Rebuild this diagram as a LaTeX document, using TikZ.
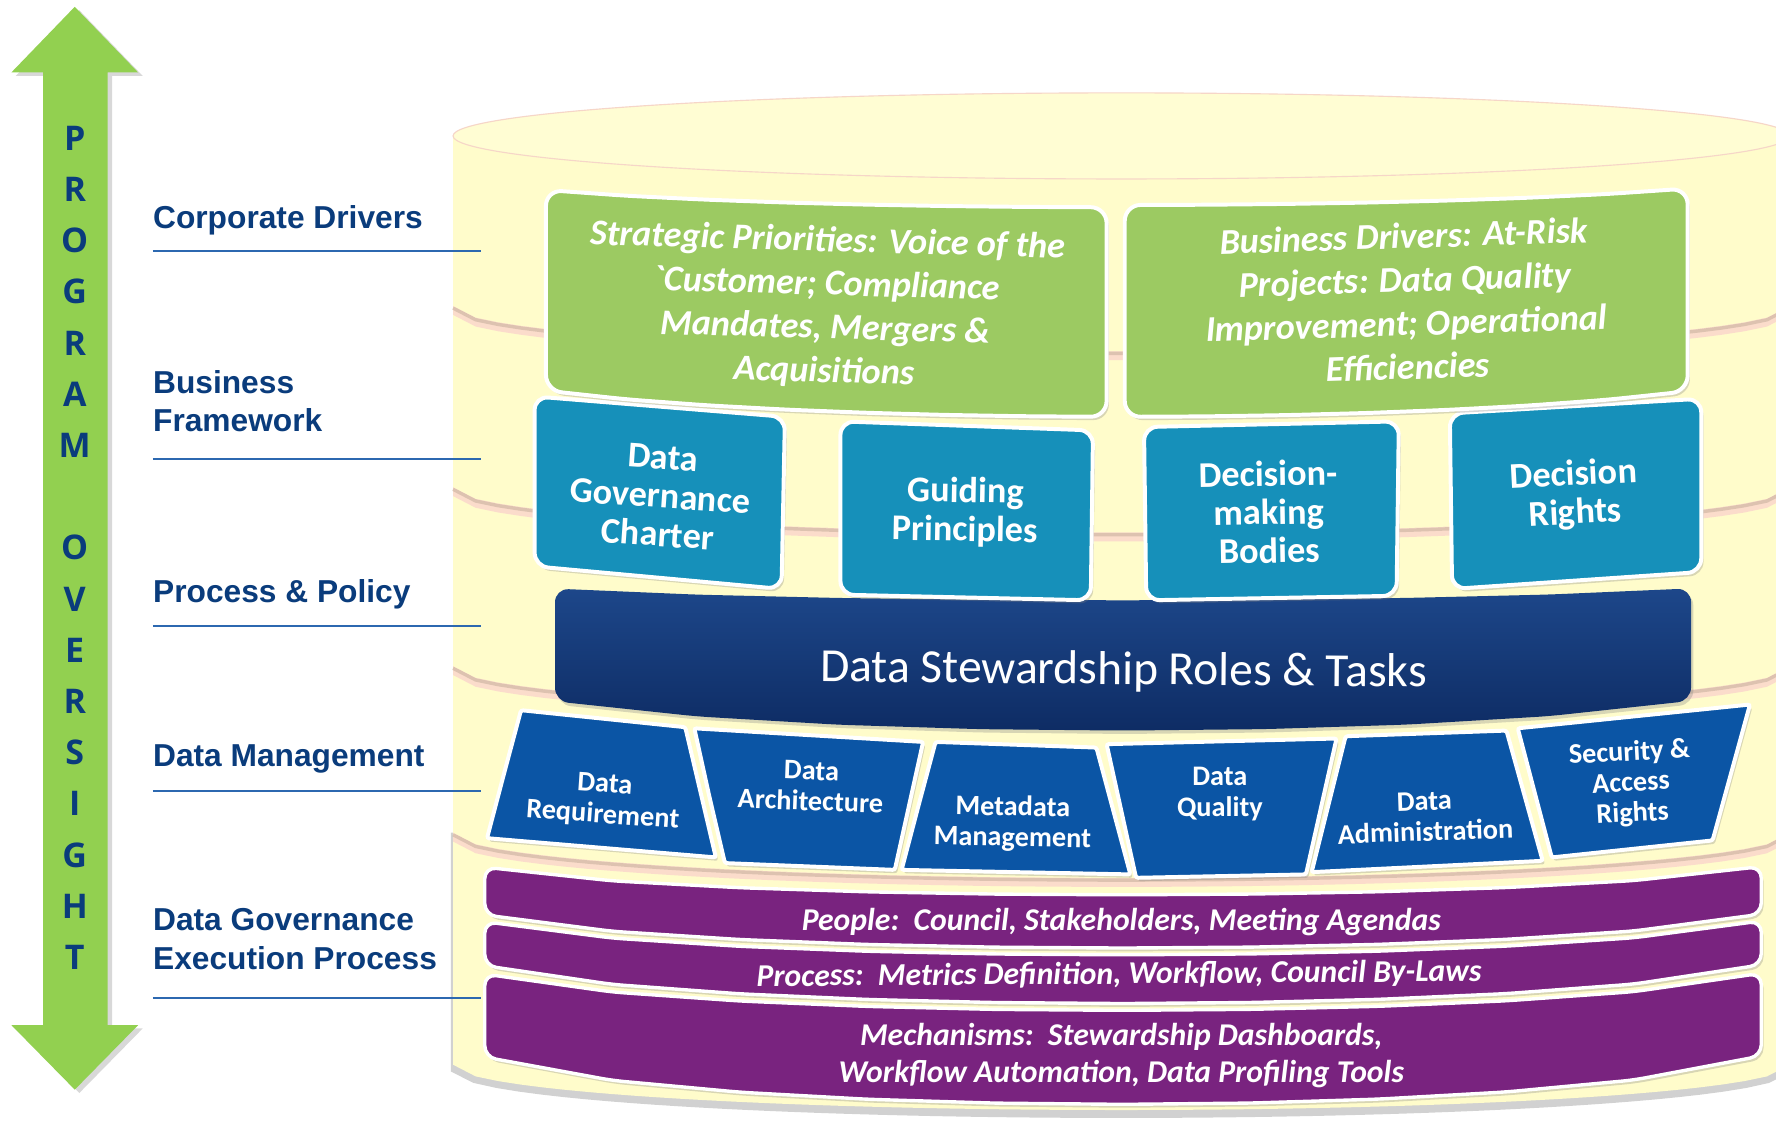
\documentclass[tikz,border=0pt]{standalone}
\usepackage{fontspec}
\setmainfont{Carlito}
\newfontfamily\rawcarlito{Carlito}[Ligatures=TeXOff]
\newfontfamily\lblfont{Liberation Sans}
\newfontfamily\arrfont{Open Sans}
\usetikzlibrary{shadows}

\definecolor{cylfill}{HTML}{FFFCCB}
\definecolor{cyltop}{HTML}{FFFDD3}
\definecolor{cylrim}{HTML}{F6D6C8}
\definecolor{cylpink}{HTML}{FBDCCB}
\definecolor{cyledge}{HTML}{C9B29E}
\definecolor{gbox}{HTML}{9CCA62}
\definecolor{tbox}{HTML}{1690BA}
\definecolor{navyA}{HTML}{1D478A}
\definecolor{navyB}{HTML}{0E2C64}
\definecolor{dmblue}{HTML}{0B55A5}
\definecolor{purp}{HTML}{79237F}
\definecolor{arrgreen}{HTML}{92D050}
\definecolor{lblblue}{HTML}{0A3C7C}
\definecolor{lineblue}{HTML}{2C68B0}

\newcommand\mydisc[2]{%
  \fill[cylpink] (400,#1) -- plot[domain=400:1580,samples=60] (\x,{#2+8+40*ee(\x)}) -- (1580,#1) -- cycle;
  \draw[cyledge,line width=3pt,opacity=0.6] plot[domain=400:1580,samples=60] (\x,{#2+2+40*ee(\x)});
  \fill[cylfill] (400,#1) -- plot[domain=400:1580,samples=60] (\x,{#2+40*ee(\x)}) -- (1580,#1) -- cycle;
}

\begin{document}
\begin{tikzpicture}[x=1pt,y=-1pt,
  declare function={ee(\x)=sqrt(max(0,1-((\x-990)/590)^2));},
  shd/.style={drop shadow={opacity=0.3,shadow xshift=2pt,shadow yshift=-3pt}},
  gbx/.style={fill=gbox, draw=white, line width=3.5pt, rounded corners=14pt, shd},
  tbx/.style={fill=tbox, draw=white, line width=3.5pt, rounded corners=12pt, shd},
  nbx/.style={top color=navyA, bottom color=navyB, rounded corners=12pt, shd},
  dbx/.style={fill=dmblue, draw=white, line width=3.5pt, rounded corners=2pt, shd},
  pbx/.style={fill=purp, draw=white, line width=3pt, rounded corners=10pt, shd},
  gtxt/.style={text=white, align=center, inner sep=0pt, font=\fontsize{32}{38.5}\selectfont\bfseries\itshape},
  ttxt/.style={text=white, align=center, inner sep=0pt, font=\fontsize{32}{34}\selectfont\bfseries},
  ntxt/.style={text=white, inner sep=0pt, font=\fontsize{42}{46}\selectfont},
  dtxt/.style={text=white, align=center, inner sep=0pt, font=\fontsize{25}{27}\selectfont\bfseries},
  ptxt/.style={text=white, align=center, inner sep=0pt, font=\fontsize{28}{32}\selectfont\bfseries\itshape},
  lbl/.style={text=lblblue, align=left, inner sep=0pt, font=\lblfont\bfseries\fontsize{28}{34}\selectfont},
  lblline/.style={lineblue, line width=1.8pt},
  arrl/.style={text=lblblue, inner sep=0pt, font=\arrfont\bfseries\fontsize{30}{30}\selectfont}
]
\useasboundingbox (0,0) rectangle (1568,991);
\fill[white] (0,0) rectangle (1568,991);

% cylinder: soft shadow under the bottom, then discs bottom first
\fill[black,opacity=0.18] (398,735) -- plot[domain=398:1582,samples=60] (\x,{946+41*ee(\x)}) -- (1582,735) -- cycle;
\fill[cylfill] (400,735) -- plot[domain=400:1580,samples=60] (\x,{940+40*ee(\x)}) -- (1580,735) -- cycle;
\mydisc{588}{735}
\mydisc{430}{588}
\mydisc{270}{430}
\mydisc{120}{270}
\draw[cylrim, fill=cyltop, line width=1pt] (990,120) ellipse [x radius=590, y radius=38];

% stewardship band
\path[nbx] (490,570) -- plot[domain=490:1493,samples=9] (\x,{508+22*ee(\x)})
  -- plot[domain=1493:490,samples=9] (\x,{590+55*ee(\x)}) -- cycle;

% data management trapezoids
\path[dbx] (445,683) -- (460,627) -- (605,642) -- (632,757) -- (430,740) -- cycle;
\path[dbx] (626,702) -- (613,643) -- (815,655) -- (790,768) -- (640,762) -- cycle;
\path[dbx] (811,711) -- (826,655) -- (968,660) -- (998,772) -- (796,768) -- cycle;
\path[dbx] (990,716) -- (977,657) -- (1180,652) -- (1153,772) -- (1003,775) -- cycle;
\path[dbx] (1173,710) -- (1188,650) -- (1330,645) -- (1362,760) -- (1158,770) -- cycle;
\path[dbx] (1355,700) -- (1340,643) -- (1545,622) -- (1512,742) -- (1370,757) -- cycle;

% purple bands
\path[pbx] (428,786) -- plot[domain=428:1555,samples=11] (\x,{755+35*ee(\x)})
  -- plot[domain=1555:428,samples=11] (\x,{795+42*ee(\x)}) -- cycle;
\path[pbx] (428,833) -- plot[domain=428:1555,samples=11] (\x,{801+42*ee(\x)})
  -- plot[domain=1555:428,samples=11] (\x,{838+48*ee(\x)}) -- cycle;
\path[pbx] (428,896) -- plot[domain=428:1555,samples=11] (\x,{846+46*ee(\x)})
  -- plot[domain=1555:428,samples=11] (\x,{915+60*ee(\x)}) -- cycle;

% teal boxes
\path[tbx] (472,425) -- (472,350) -- (693,368) -- (690,520) -- (472,500) -- cycle;
\path[tbx] (742,448) -- (742,372) -- (965,380) -- (963,530) -- (742,525) -- cycle;
\path[tbx] (1011,453) -- (1010,377) -- (1235,372) -- (1233,526) -- (1012,530) -- cycle;
\path[tbx] (1281,442) -- (1280,365) -- (1502,352) -- (1502,505) -- (1282,520) -- cycle;

% green boxes
\path[gbx] (482,255) -- plot[domain=482:977,samples=8] (\x,{152+31*ee(\x)})
  -- plot[domain=977:482,samples=8] (\x,{321+47*ee(\x)}) -- cycle;
\path[gbx] (993,274) -- plot[domain=993:1490,samples=8] (\x,{150+31*ee(\x)})
  -- plot[domain=1490:993,samples=8] (\x,{320+48*ee(\x)}) -- cycle;

% texts in boxes
\node[gtxt, rotate=-1.6] (g1) at (729,271) {Strategic Priorities: Voice of the\\{\rawcarlito`}Customer; Compliance\\Mandates, Mergers \&\\Acquisitions};
\node[gtxt, rotate=1.8] (g2) at (1241,266) {Business Drivers: At-Risk\\Projects: Data Quality\\Improvement; Operational\\Efficiencies};
\node[ttxt, rotate=-4] (t1) at (583,438) {Data\\Governance\\Charter};
\node[ttxt, rotate=-1] (t2) at (852,452) {Guiding\\Principles};
\node[ttxt, rotate=1] (t3) at (1120,452) {Decision-\\making\\Bodies};
\node[ttxt, rotate=3] (t4) at (1390,437) {Decision\\Rights};
\node[ntxt, rotate=-0.5] (ds) at (992,593) {Data Stewardship Roles \& Tasks};
\node[dtxt, rotate=-4] (d1) at (533,707) {Data\\Requirement};
\node[dtxt, rotate=-2] (d2) at (716,694) {Data\\Architecture};
\node[dtxt, rotate=-1] (d3) at (894,727) {Metadata\\Management};
\node[dtxt] (d4) at (1077,701) {Data\\Quality};
\node[dtxt, rotate=2] (d5) at (1258,721) {Data\\Administration};
\node[dtxt, rotate=3] (d6) at (1440,692) {Security \&\\Access\\Rights};
\node[ptxt] (p1) at (990,814) {People:\ \ Council, Stakeholders, Meeting Agendas};
\node[ptxt, rotate=0.4] (p2) at (988,861) {Process:\ \ Metrics Definition, Workflow, Council By-Laws};
\node[ptxt] (p3) at (990,932) {Mechanisms:\ \ Stewardship Dashboards,\\Workflow Automation, Data Profiling Tools};

% left labels
\node[lbl, anchor=base west] (l1) at (135,202) {Corporate Drivers};
\node[lbl, anchor=west] (l2) at (135,354) {Business\\Framework};
\node[lbl, anchor=base west] (l3) at (135,532) {Process \& Policy};
\node[lbl, anchor=base west] (l4) at (135,677) {Data Management};
\node[lbl, anchor=west] (l5) at (135,829) {Data Governance\\Execution Process};
\draw[lblline] (135,222) -- (425,222);
\draw[lblline] (135,405) -- (425,405);
\draw[lblline] (135,553) -- (425,553);
\draw[lblline] (135,698) -- (425,698);
\draw[lblline] (135,881) -- (425,881);

% program oversight arrow
\path[fill=arrgreen, drop shadow={opacity=0.3,shadow xshift=4pt,shadow yshift=-3pt}]
  (66,6) -- (122,64) -- (95,64) -- (95,905) -- (122,905) -- (66,962) -- (10,905) -- (38,905) -- (38,64) -- (10,64) -- cycle;
\foreach \ch/\k [count=\i] in {P/0,R/1,O/2,G/3,R/4,A/5,M/6,O/8,V/9,E/10,R/11,S/12,I/13,G/14,H/15,T/16}
  \node[arrl] (ltr\i) at (66,{122+45.2*\k}) {\ch};
\end{tikzpicture}
\end{document}
